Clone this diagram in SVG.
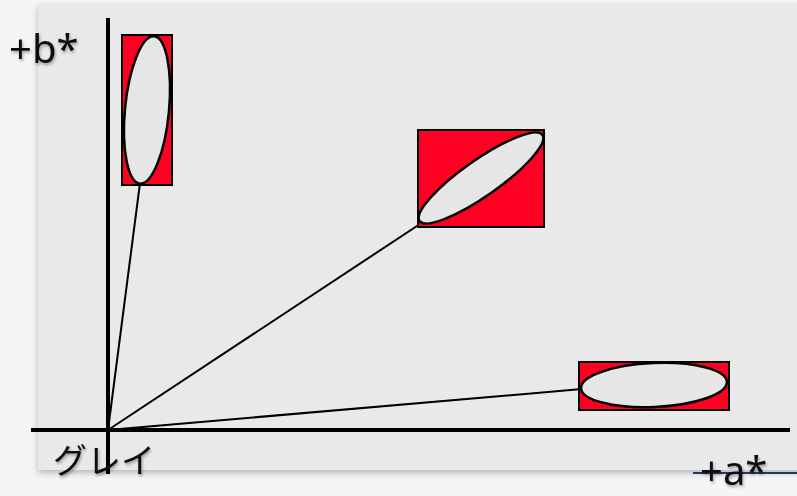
<svg xmlns="http://www.w3.org/2000/svg" width="797" height="496" viewBox="0 0 797 496">
<defs>
<filter id="sh" x="-10%" y="-10%" width="120%" height="120%"><feDropShadow dx="0" dy="3" stdDeviation="3" flood-color="#000" flood-opacity="0.25"/></filter>
<filter id="tsh" x="-20%" y="-20%" width="140%" height="140%"><feDropShadow dx="1" dy="2" stdDeviation="1.5" flood-color="#000" flood-opacity="0.35"/></filter>
</defs>
<style>
.box{fill:#ff0022;stroke:#000;stroke-width:2}
.ell{fill:#e6e6e6;stroke:#000;stroke-width:2.5}
.ax{stroke:#000;stroke-width:4}
.ln{stroke:#000;stroke-width:2;fill:none}
.lbl{font-family:"Noto Sans","Noto Sans CJK JP",sans-serif;font-size:40px;fill:#111}
.jp{font-family:"Noto Sans CJK JP",sans-serif;font-size:34px;fill:#111}
</style>
<rect x="0" y="0" width="797" height="496" fill="#f5f5f5"/>
<rect x="38" y="4" width="770" height="466" fill="#e9e9e9" filter="url(#sh)"/>
<g id="connectors">
<line class="ln" x1="108" y1="430" x2="140" y2="183"/>
<line class="ln" x1="108" y1="430" x2="420" y2="224"/>
<line class="ln" x1="108" y1="430" x2="582" y2="389"/>
</g>
<g id="axes">
<line class="ax" x1="108" y1="18" x2="108" y2="474"/>
<line class="ax" x1="31" y1="430" x2="790" y2="430"/>
<line x1="693" y1="473" x2="797" y2="473" stroke="#1f3864" stroke-width="2"/>
</g>
<g id="node1">
<rect class="box" x="122" y="35" width="50" height="150"/>
<ellipse class="ell" cx="147" cy="110" rx="22" ry="74" transform="rotate(5.5 147 110)"/>
</g>
<g id="node2">
<rect class="box" x="418" y="130" width="126" height="97"/>
<ellipse class="ell" cx="481" cy="178" rx="75" ry="18" transform="rotate(-35 481 178)"/>
</g>
<g id="node3">
<rect class="box" x="579" y="362" width="150" height="48"/>
<ellipse class="ell" cx="654" cy="385" rx="73" ry="22" transform="rotate(-2.5 654 385)"/>
</g>
<g id="labels" filter="url(#tsh)">
<text class="lbl" x="9" y="63">+b*</text>
<text class="lbl" x="700" y="485">+a*</text>
<text class="jp" x="53" y="473">グレイ</text>
</g>
</svg>
